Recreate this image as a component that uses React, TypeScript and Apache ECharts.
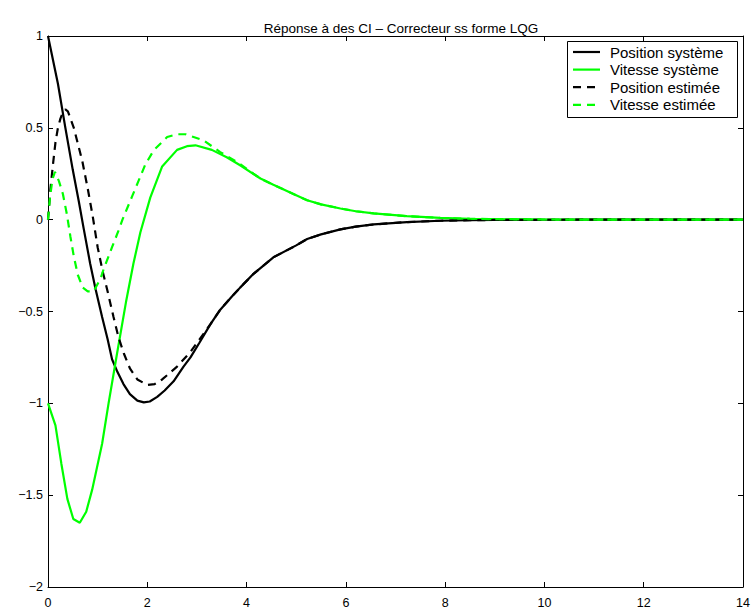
import React, { useEffect, useRef } from "react";
import * as echarts from "echarts";

const titleText = "Réponse à des CI – Correcteur ss forme LQG";
const legendNames = ["Position système", "Vitesse système", "Position estimée", "Vitesse estimée"];
const legendColors = ["#000000", "#00ff00", "#000000", "#00ff00"];
const legendDashed = [false, false, true, true];

// Position système (black solid)
const tPosSys = [0, 0.2, 0.35, 0.5, 0.62, 0.72, 0.85, 0.96, 1.09, 1.2, 1.29, 1.4, 1.52, 1.65, 1.8, 1.93, 2.05, 2.2, 2.35, 2.53, 2.73, 2.87, 3.05, 3.27, 3.47, 3.7, 3.87, 4.14, 4.54, 5.0, 5.22, 5.5, 5.89, 6.2, 6.56, 7.23, 7.9, 8.5, 9, 10, 11, 12, 13, 14];
const posSys = [1.0, 0.74, 0.5, 0.27, 0.1, -0.05, -0.24, -0.38, -0.53, -0.65, -0.76, -0.83, -0.895, -0.95, -0.985, -0.995, -0.99, -0.965, -0.93, -0.88, -0.8, -0.75, -0.67, -0.57, -0.49, -0.42, -0.37, -0.295, -0.205, -0.14, -0.105, -0.08, -0.053, -0.038, -0.026, -0.013, -0.006, -0.003, -0.0015, -0.0005, 0, 0, 0, 0];

// Vitesse système (green solid)
const tVitSys = [0, 0.15, 0.27, 0.39, 0.51, 0.64, 0.77, 0.89, 1.09, 1.22, 1.39, 1.57, 1.72, 1.86, 2.06, 2.3, 2.6, 2.8, 2.97, 3.3, 3.6, 3.87, 4.28, 4.54, 4.9, 5.22, 5.5, 5.89, 6.2, 6.56, 7.23, 7.9, 8.5, 9, 10, 11, 12, 13, 14];
const vitSys = [-1.0, -1.12, -1.33, -1.52, -1.63, -1.65, -1.59, -1.47, -1.22, -1.0, -0.73, -0.45, -0.24, -0.07, 0.12, 0.29, 0.38, 0.4, 0.405, 0.38, 0.34, 0.296, 0.224, 0.19, 0.145, 0.106, 0.083, 0.061, 0.046, 0.034, 0.019, 0.01, 0.005, 0.003, 0.001, 0, 0, 0, 0];

// Position estimée (black dashed)
const tPosEst = [0, 0.05, 0.1, 0.15, 0.2, 0.25, 0.3, 0.35, 0.4, 0.52, 0.69, 0.8, 0.9, 1.0, 1.1, 1.2, 1.32, 1.42, 1.53, 1.65, 1.8, 2.0, 2.15, 2.3, 2.6, 2.87, 3.27, 3.47, 3.7, 3.87, 4.14, 4.54, 5.0, 5.22, 5.5, 5.89, 6.2, 6.56, 7.23, 7.9, 8.5, 9, 10, 11, 12, 13, 14];
const posEst = [0, 0.17, 0.3, 0.42, 0.5, 0.55, 0.585, 0.6, 0.59, 0.5, 0.32, 0.17, 0.02, -0.15, -0.28, -0.39, -0.53, -0.64, -0.73, -0.81, -0.87, -0.9, -0.895, -0.87, -0.8, -0.72, -0.57, -0.49, -0.42, -0.37, -0.295, -0.205, -0.14, -0.105, -0.08, -0.053, -0.038, -0.026, -0.013, -0.006, -0.003, -0.0015, -0.0005, 0, 0, 0, 0];

// Vitesse estimée (green dashed)
const tVitEst = [0, 0.04, 0.09, 0.14, 0.22, 0.3, 0.38, 0.45, 0.52, 0.6, 0.7, 0.8, 0.92, 1.06, 1.12, 1.22, 1.29, 1.42, 1.5, 1.69, 1.83, 1.96, 2.13, 2.4, 2.6, 2.77, 3.13, 3.47, 3.81, 4.14, 4.28, 4.54, 4.9, 5.22, 5.5, 5.89, 6.2, 6.56, 7.23, 7.9, 8.5, 9, 10, 11, 12, 13, 14];
const vitEst = [0, 0.12, 0.22, 0.26, 0.21, 0.14, 0.03, -0.09, -0.2, -0.3, -0.37, -0.39, -0.39, -0.32, -0.27, -0.2, -0.15, -0.06, 0, 0.124, 0.215, 0.3, 0.378, 0.45, 0.465, 0.465, 0.432, 0.368, 0.314, 0.25, 0.224, 0.19, 0.145, 0.106, 0.083, 0.061, 0.046, 0.034, 0.019, 0.01, 0.005, 0.003, 0.001, 0, 0, 0, 0];

const xTicks = { min: 0, max: 14, interval: 2 };
const yTicks = { min: -2, max: 1, interval: 0.5 };

const pairs = (t: number[], v: number[]) => t.map((x, i) => [x, v[i]]);

const FONT = "'Liberation Sans', Arial, Helvetica, sans-serif";
const DASH = [8, 6];

export default function App() {
  const ref = useRef<HTMLDivElement>(null);
  useEffect(() => {
    if (!ref.current) return;
    const chart = echarts.init(ref.current, undefined, { renderer: "svg" });
    const axisLine = { show: true, onZero: false, lineStyle: { color: "#000", width: 1 } };
    const tick = { show: true, inside: true, length: 5, lineStyle: { color: "#000", width: 1 } };
    const minusFmt = (v: number) => String(v).replace("-", "−");
    const mkSeries = (i: number, data: number[][]) => ({
      name: legendNames[i],
      type: "line",
      data,
      showSymbol: false,
      symbol: "none",
      smooth: false,
      lineStyle: { color: legendColors[i], width: 2.2, type: legendDashed[i] ? DASH : "solid" },
      itemStyle: { color: legendColors[i] },
      z: 3,
    });

    // manual legend (box, line samples, labels)
    const lgX = 567, lgY = 41, lgW = 170, lgH = 76, rowH = 17.6;
    const legendEls: any[] = [
      {
        type: "rect",
        shape: { x: lgX + 0.5, y: lgY + 0.5, width: lgW, height: lgH },
        style: { fill: "#fff", stroke: "#000", lineWidth: 1 },
        z: 10,
      },
    ];
    legendNames.forEach((name, i) => {
      const cy = lgY + 11 + i * rowH;
      legendEls.push({
        type: "line",
        shape: { x1: lgX + 6, y1: cy, x2: lgX + 33, y2: cy },
        style: {
          stroke: legendColors[i],
          lineWidth: 2.2,
          lineDash: legendDashed[i] ? DASH : null,
        },
        z: 11,
      });
      legendEls.push({
        type: "text",
        x: lgX + 43,
        y: cy,
        style: {
          text: name,
          fill: "#000",
          font: `15px ${FONT}`,
          textVerticalAlign: "middle",
          verticalAlign: "middle",
        },
        z: 11,
      });
    });

    chart.setOption({
      animation: false,
      backgroundColor: "#fff",
      title: {
        text: titleText,
        left: 396,
        textAlign: "center",
        top: 16,
        textStyle: { fontFamily: FONT, fontSize: 13.5, fontWeight: "normal", color: "#000" },
      },
      grid: { left: 48, right: 11, top: 36, bottom: 23, containLabel: false },
      xAxis: [
        {
          type: "value",
          ...xTicks,
          position: "bottom",
          axisLine,
          axisTick: tick,
          splitLine: { show: false },
          axisLabel: { fontFamily: FONT, fontSize: 12.5, color: "#000", margin: 9 },
        },
        {
          type: "value",
          ...xTicks,
          position: "top",
          axisLine,
          axisTick: tick,
          splitLine: { show: false },
          axisLabel: { show: false },
        },
      ],
      yAxis: [
        {
          type: "value",
          ...yTicks,
          position: "left",
          axisLine,
          axisTick: tick,
          splitLine: { show: false },
          axisLabel: { fontFamily: FONT, fontSize: 12.5, color: "#000", margin: 5, formatter: minusFmt },
        },
        {
          type: "value",
          ...yTicks,
          position: "right",
          axisLine,
          axisTick: tick,
          splitLine: { show: false },
          axisLabel: { show: false },
        },
      ],
      graphic: legendEls,
      series: [
        mkSeries(0, pairs(tPosSys, posSys)),
        mkSeries(1, pairs(tVitSys, vitSys)),
        mkSeries(2, pairs(tPosEst, posEst)),
        mkSeries(3, pairs(tVitEst, vitEst)),
      ],
    });
    return () => chart.dispose();
  }, []);
  return (
    <div
      ref={ref}
      style={{ position: "absolute", left: 0, top: 0, width: 754, height: 610, background: "#fff" }}
    />
  );
}
